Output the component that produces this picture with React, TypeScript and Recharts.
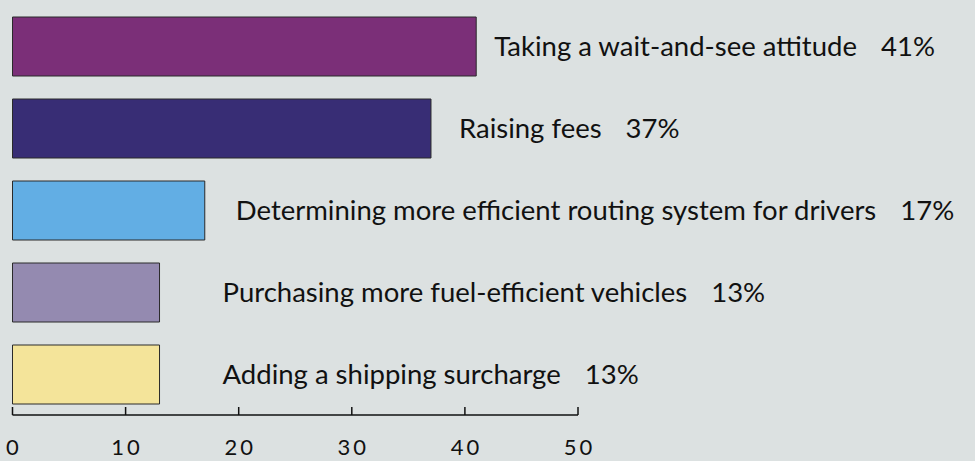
import { BarChart, Bar, XAxis, YAxis, Cell, LabelList } from 'recharts'

// Barras horizontales: medidas ante el precio del combustible (% de respuestas).
const categorias = [
  'Taking a wait-and-see attitude',
  'Raising fees',
  'Determining more efficient routing system for drivers',
  'Purchasing more fuel-efficient vehicles',
  'Adding a shipping surcharge',
]
const valores = [41, 37, 17, 13, 13]
const ticksX = [0, 10, 20, 30, 40, 50]

const colores = ['#7b2f78', '#382d75', '#62aee4', '#948ab0', '#f4e49a']
// separación entre el final de la barra y su texto (como en el original, no es uniforme)
const separacion = [18, 28, 31, 63, 63]

const FUENTE = 'Lato, "Open Sans", sans-serif'

const datos = categorias.map((c, i) => ({ categoria: c, valor: valores[i] }))

function Etiqueta(props: any) {
  const { x, y, width, height, index } = props
  const cy = y + height / 2 + 9
  return (
    <text x={x + width + separacion[index]} y={cy} fontFamily={FUENTE} fontSize={27.5} fill="#111">
      {categorias[index]}
      <tspan dx={24}>{valores[index]}%</tspan>
    </text>
  )
}

function TickX(props: any) {
  const { x, y, payload } = props
  return (
    <g>
      <line x1={x} x2={x} y1={y - 8} y2={y} stroke="#111" strokeWidth={1.5} />
      <text x={x + 1.5} y={y + 40} textAnchor="middle" fontFamily={FUENTE} fontSize={22} letterSpacing={3} fill="#111">
        {payload.value}
      </text>
    </g>
  )
}

export default function App() {
  return (
    <div style={{ position: 'fixed', left: 0, top: 0, width: 975, height: 461, background: '#dce1e1' }}>
      <BarChart
        width={975} height={461} data={datos} layout="vertical"
        margin={{ top: 5, right: 397, bottom: 0, left: 12.5 }}
      >
        <XAxis
          type="number" domain={[0, 50]} ticks={ticksX} interval={0}
          axisLine={{ stroke: '#111', strokeWidth: 1.5 }} tickLine={false}
          tickSize={0} tickMargin={0} tick={<TickX />} height={46}
        />
        <YAxis
          type="category" dataKey="categoria" width={0} tick={false} tickLine={false}
          axisLine={{ stroke: '#111', strokeWidth: 2 }}
        />
        <Bar dataKey="valor" barSize={59} stroke="#2a2a2a" strokeWidth={1} isAnimationActive={false}>
          {datos.map((d, i) => <Cell key={d.categoria} fill={colores[i]} />)}
          <LabelList dataKey="valor" content={<Etiqueta />} />
        </Bar>
      </BarChart>
    </div>
  )
}
